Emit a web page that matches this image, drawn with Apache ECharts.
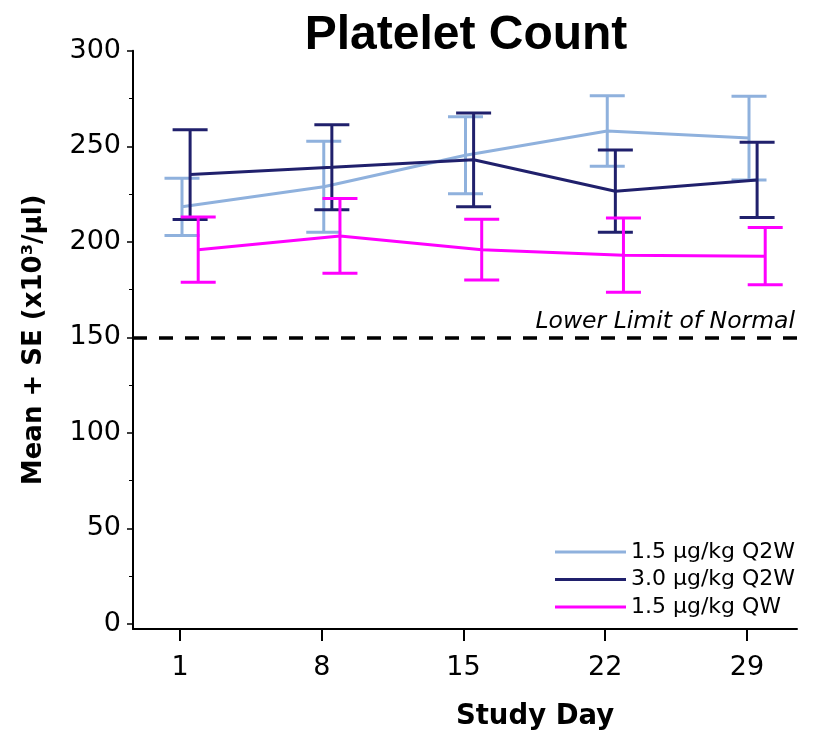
<!DOCTYPE html>
<html>
<head>
<meta charset="utf-8">
<script src="https://cdn.jsdelivr.net/npm/echarts@6/dist/echarts.min.js"></script>
<style>
html,body{margin:0;padding:0;background:#fff;}
#chart{width:819px;height:734px;}
</style>
</head>
<body>
<div id="chart"></div>
<script>
// ---- data ----
const days = [1, 8, 15, 22, 29];
const yTicks = [0, 50, 100, 150, 200, 250, 300];
const yMinorTicks = [25, 75, 125, 175, 225, 275];
const seriesNames = ['1.5 µg/kg Q2W', '3.0 µg/kg Q2W', '1.5 µg/kg QW'];
const q2w15Mean = [218.3, 228.8, 245.3, 258.0, 254.3];
const q2w15SE   = [15.0, 23.8, 20.2, 18.4, 21.9];
const q2w30Mean = [235.2, 239.0, 242.9, 226.5, 232.4];
const q2w30SE   = [23.5, 22.2, 24.5, 21.5, 19.7];
const qw15Mean  = [195.9, 203.1, 195.9, 193.0, 192.5];
const qw15SE    = [17.1, 19.6, 15.9, 19.4, 15.0];
const lowerLimit = 150;
const lowerLimitLabel = 'Lower Limit of Normal';

// ---- presentation ----
const means = [q2w15Mean, q2w30Mean, qw15Mean];
const ses = [q2w15SE, q2w30SE, qw15SE];
const colors = ['#8FB1DD', '#20206C', '#FF00FF'];
const dodge = [0.1, 0.5, 0.9];
const capHalf = 17.5;

const series = [];
seriesNames.forEach((name, g) => {
  const col = colors[g];
  series.push({
    name: name + ' (SE)',
    type: 'custom',
    z: 2 + g * 2,
    silent: true,
    renderItem: function (params, api) {
      const x = api.value(0);
      const pLo = api.coord([x, api.value(1)]);
      const pHi = api.coord([x, api.value(2)]);
      const st = { stroke: col, lineWidth: 3 };
      return {
        type: 'group',
        children: [
          { type: 'line', shape: { x1: pHi[0], y1: pHi[1], x2: pLo[0], y2: pLo[1] }, style: st },
          { type: 'line', shape: { x1: pHi[0] - capHalf, y1: pHi[1], x2: pHi[0] + capHalf, y2: pHi[1] }, style: st },
          { type: 'line', shape: { x1: pLo[0] - capHalf, y1: pLo[1], x2: pLo[0] + capHalf, y2: pLo[1] }, style: st }
        ]
      };
    },
    encode: { x: 0, y: [1, 2] },
    data: days.map((d, i) => [d + dodge[g], means[g][i] - ses[g][i], means[g][i] + ses[g][i]])
  });
  const lineS = {
    name: name,
    type: 'line',
    z: 3 + g * 2,
    symbol: 'none',
    silent: true,
    color: col,
    lineStyle: { color: col, width: 3 },
    itemStyle: { color: col },
    data: days.map((d, i) => [d + dodge[g], means[g][i]])
  };
  if (g === 0) {
    lineS.markLine = {
      silent: true,
      symbol: 'none',
      lineStyle: { color: '#000', type: [14, 12], width: 3.5 },
      label: {
        show: true,
        position: 'insideEndTop',
        formatter: lowerLimitLabel,
        fontFamily: 'DejaVu Sans',
        fontStyle: 'italic',
        fontSize: 23.5,
        color: '#000',
        distance: [2, 4]
      },
      data: [{ yAxis: lowerLimit }]
    };
  }
  series.push(lineS);
});

const chart = echarts.init(document.getElementById('chart'), null, { renderer: 'canvas' });
chart.setOption({
  animation: false,
  backgroundColor: '#fff',
  title: {
    text: 'Platelet Count',
    left: 461,
    textAlign: 'center',
    top: 7,
    textStyle: { fontFamily: 'Liberation Sans', fontWeight: 'bold', fontSize: 48, color: '#000' }
  },
  grid: { left: 133, right: 22, top: 50.7, bottom: 105, containLabel: false, outerBoundsMode: 'none' },
  legend: {
    orient: 'vertical',
    left: 555,
    top: 541,
    padding: 0,
    icon: 'rect',
    itemWidth: 71,
    itemHeight: 3,
    itemGap: 5.5,
    data: seriesNames.map(n => ({ name: n, icon: 'rect' })),
    textStyle: { fontFamily: 'DejaVu Sans', fontSize: 22, color: '#000', padding: [0, 0, 0, 0] },
    selectedMode: false
  },
  xAxis: {
    type: 'value',
    min: -1.32,
    max: 31.47,
    name: 'Study Day',
    nameLocation: 'middle',
    nameGap: 74,
    nameTextStyle: { fontFamily: 'DejaVu Sans', fontWeight: 'bold', fontSize: 27.5, color: '#000', padding: [0, 0, 0, 140] },
    axisLine: { show: true, onZero: false, lineStyle: { color: '#000', width: 2 } },
    axisTick: { show: true, customValues: days, length: 12, lineStyle: { color: '#000', width: 2 } },
    axisLabel: { customValues: days, margin: 25, fontFamily: 'DejaVu Sans', fontSize: 27, color: '#000' },
    splitLine: { show: false }
  },
  yAxis: [{
    type: 'value',
    min: -2.6,
    max: 300,
    offset: 0,
    name: 'Mean + SE (x10³/µl)',
    nameLocation: 'middle',
    nameGap: 86,
    nameTextStyle: { fontFamily: 'DejaVu Sans', fontWeight: 'bold', fontSize: 26, color: '#000' },
    axisLine: { show: true, onZero: false, lineStyle: { color: '#000', width: 2 } },
    axisTick: { show: true, customValues: yTicks, length: 6, lineStyle: { color: '#000', width: 1.5 } },
    axisLabel: { customValues: yTicks, margin: 12, fontFamily: 'DejaVu Sans', fontSize: 27, color: '#000' },
    splitLine: { show: false }
  }, {
    type: 'value',
    min: -2.6,
    max: 300,
    position: 'left',
    offset: 0,
    axisLine: { show: false, onZero: false },
    axisTick: { show: true, customValues: yMinorTicks, length: 4, lineStyle: { color: '#000', width: 1 } },
    axisLabel: { show: false },
    splitLine: { show: false }
  }],
  series: series
});
</script>
</body>
</html>
